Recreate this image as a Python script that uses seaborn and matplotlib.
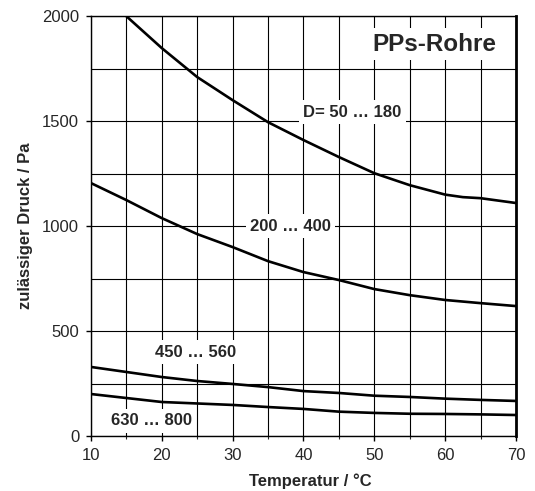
import pandas as pd
import matplotlib.pyplot as plt
import seaborn as sns
from matplotlib.ticker import MultipleLocator

# Kurvenwerte
temp_a = [15, 20, 25, 30, 35, 40, 45, 50, 55, 60, 62.5, 65, 70]
druck_a = [2000, 1848, 1710, 1600, 1495, 1410, 1329, 1252, 1195, 1150, 1138, 1133, 1110]

temp = [10, 15, 20, 25, 30, 35, 40, 45, 50, 55, 60, 65, 70]
druck_b = [1205, 1124, 1038, 962, 900, 833, 781, 743, 700, 671, 648, 633, 619]
druck_c = [329, 305, 281, 262, 248, 233, 214, 205, 192, 186, 178, 172, 167]
druck_d = [200, 181, 162, 155, 148, 138, 129, 116, 110, 106, 105, 103, 100]

labels = ['D= 50 … 180', '200 … 400', '450 … 560', '630 … 800']

df = pd.concat([
    pd.DataFrame({'T': temp_a, 'p': druck_a, 'D': labels[0]}),
    pd.DataFrame({'T': temp, 'p': druck_b, 'D': labels[1]}),
    pd.DataFrame({'T': temp, 'p': druck_c, 'D': labels[2]}),
    pd.DataFrame({'T': temp, 'p': druck_d, 'D': labels[3]}),
])

sns.set_style('white')
plt.rcParams['font.family'] = ['Liberation Sans', 'DejaVu Sans']

fig = plt.figure(figsize=(5.35, 4.91), dpi=100)
ax = fig.add_axes([0.170, 0.112, 0.7945, 0.855])

for name in labels:
    sub = df[df['D'] == name]
    sns.lineplot(data=sub, x='T', y='p', ax=ax, color='black', linewidth=1.9,
                 sort=False, estimator=None, legend=False, zorder=3)

ax.set_xlim(10, 70)
ax.set_ylim(0, 2000)
ax.xaxis.set_major_locator(MultipleLocator(10))
ax.xaxis.set_minor_locator(MultipleLocator(5))
ax.yaxis.set_major_locator(MultipleLocator(500))
ax.yaxis.set_minor_locator(MultipleLocator(250))
ax.grid(True, which='both', color='black', linewidth=0.8, zorder=1)
ax.set_axisbelow(True)
ax.tick_params(axis='both', which='major', direction='out', length=3.5, width=1,
               color='black', labelsize=12, pad=5, bottom=True, left=True)
ax.tick_params(axis='x', which='minor', direction='out', length=2.5, width=0.8,
               bottom=True)
ax.tick_params(axis='y', which='minor', length=0)

for side in ['left', 'bottom', 'top']:
    ax.spines[side].set_color('black')
    ax.spines[side].set_linewidth(1.0)
ax.spines['right'].set_color('black')
ax.spines['right'].set_linewidth(2.0)

ax.set_xlabel('Temperatur / °C', fontsize=12, fontweight='bold')
ax.set_ylabel('zulässiger Druck / Pa', fontsize=12, fontweight='bold')
ax.xaxis.set_label_coords(0.515, -0.088)
ax.yaxis.set_label_coords(-0.136, 0.5)

box = dict(facecolor='white', edgecolor='none', pad=3)
ax.text(58.5, 1867, 'PPs-Rohre', fontsize=17.5, fontweight='bold',
        ha='center', va='center', bbox=box, zorder=4)
ax.text(46.9, 1543, labels[0], fontsize=12, fontweight='bold',
        ha='center', va='center', bbox=box, zorder=4)
ax.text(38.2, 1000, labels[1], fontsize=12, fontweight='bold',
        ha='center', va='center', bbox=box, zorder=4)
ax.text(24.8, 400, labels[2], fontsize=12, fontweight='bold',
        ha='center', va='center', bbox=box, zorder=4)
ax.text(18.5, 72, labels[3], fontsize=12, fontweight='bold',
        ha='center', va='center', bbox=box, zorder=4)

fig.savefig('out.png', dpi=100)
